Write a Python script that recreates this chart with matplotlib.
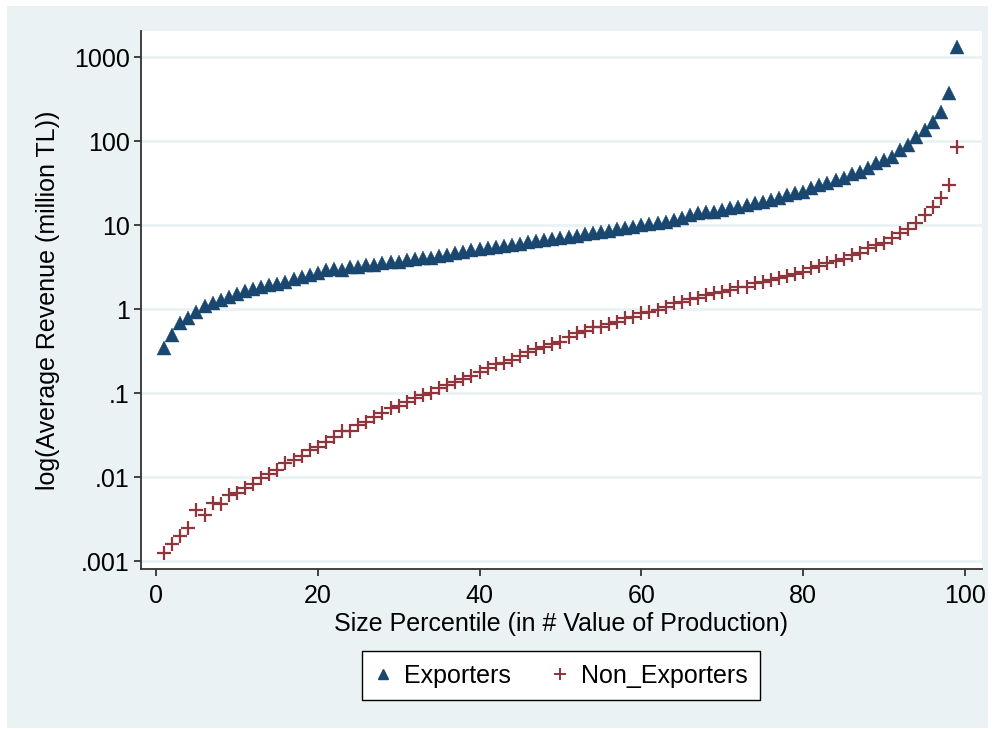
import matplotlib
matplotlib.use("Agg")
import matplotlib.pyplot as plt
from matplotlib.patches import Rectangle
from matplotlib.lines import Line2D
import numpy as np

plt.rcParams['font.family'] = ['Liberation Sans', 'DejaVu Sans']

percentile = list(range(1, 100))

exporters = [
    0.34, 0.49, 0.68, 0.78, 0.92, 1.09, 1.18, 1.28, 1.39, 1.5,
    1.64, 1.73, 1.83, 1.93, 2.0, 2.1, 2.27, 2.4, 2.54, 2.68,
    2.9, 3.0, 2.9, 3.16, 3.16, 3.3, 3.3, 3.5, 3.6, 3.6,
    3.8, 3.9, 4.0, 4.1, 4.3, 4.4, 4.6, 4.8, 5.0, 5.2,
    5.3, 5.5, 5.6, 5.8, 6.0, 6.2, 6.4, 6.6, 6.9, 7.1,
    7.3, 7.5, 7.8, 8.0, 8.3, 8.6, 8.9, 9.2, 9.6, 10.0,
    10.3, 10.7, 11.0, 11.5, 12.1, 13.1, 13.9, 14.3, 14.3, 15.1,
    15.9, 16.3, 17.3, 18.3, 18.8, 19.8, 21.0, 22.7, 24.0, 25.0,
    27.6, 30.0, 32.0, 34.0, 36.0, 40.0, 43.0, 48.0, 55.0, 60.0,
    64.0, 78.0, 90.0, 111.0, 135.0, 168.0, 222.0, 372.0, 1318.0,
]

non_exporters = [
    0.00124, 0.0016, 0.0020, 0.0025, 0.0041, 0.0035, 0.0049, 0.0048, 0.0061, 0.0065,
    0.0074, 0.0083, 0.0098, 0.011, 0.012, 0.0147, 0.016, 0.018, 0.021, 0.023,
    0.026, 0.030, 0.035, 0.035, 0.042, 0.045, 0.052, 0.058, 0.066, 0.070,
    0.078, 0.087, 0.096, 0.10, 0.115, 0.125, 0.135, 0.147, 0.16, 0.178,
    0.198, 0.22, 0.227, 0.247, 0.276, 0.307, 0.334, 0.353, 0.38, 0.405,
    0.465, 0.52, 0.547, 0.61, 0.61, 0.66, 0.70, 0.78, 0.80, 0.90,
    0.92, 0.97, 1.06, 1.18, 1.22, 1.32, 1.37, 1.47, 1.55, 1.6,
    1.68, 1.83, 1.83, 2.04, 2.1, 2.2, 2.34, 2.47, 2.6, 2.76,
    3.1, 3.25, 3.5, 3.7, 3.9, 4.4, 4.6, 5.3, 5.8, 6.1,
    7.0, 8.0, 8.96, 10.6, 13.1, 16.3, 21.0, 30.0, 85.0,
]

y_ticks = [0.001, 0.01, 0.1, 1, 10, 100, 1000]
y_tick_labels = [".001", ".01", ".1", "1", "10", "100", "1000"]
x_ticks = [0, 20, 40, 60, 80, 100]

navy = "#1A476F"
maroon = "#90353B"
bg = "#EAF2F3"

W, H = 995, 729
fig = plt.figure(figsize=(W / 100, H / 100), dpi=100, facecolor="white")
bg_rect = Rectangle((7 / W, 1 - 728 / H), (988 - 7) / W, (728 - 6) / H,
                    transform=fig.transFigure, facecolor=bg, edgecolor="none", zorder=-10)
fig.patches.append(bg_rect)

ax = fig.add_axes([141 / W, 1 - 569 / H, (982 - 141) / W, (569 - 31) / H])
ax.set_zorder(1)
ax.set_facecolor("white")
ax.set_yscale("log")
ax.set_xlim(-1.85, 102.1)
ax.set_ylim(10 ** -3.095, 10 ** 3.31)

for t in y_ticks:
    ax.axhline(t, color=bg, lw=2.0, zorder=1)

ax.plot(percentile, exporters, linestyle="none", marker="^", markersize=9.5,
        color=navy, markeredgecolor=navy, markeredgewidth=0.3, zorder=3)
ax.plot(percentile, non_exporters, linestyle="none", marker="+", markersize=10,
        color=maroon, markeredgewidth=1.6, zorder=4)

ax.set_yticks(y_ticks)
ax.set_yticklabels(y_tick_labels)
ax.yaxis.set_minor_locator(matplotlib.ticker.NullLocator())
ax.set_xticks(x_ticks)

for s in ["top", "right"]:
    ax.spines[s].set_visible(False)
for s in ["left", "bottom"]:
    ax.spines[s].set_color("#333333")
    ax.spines[s].set_linewidth(1.3)

ax.tick_params(axis="both", direction="out", length=5, width=1.3, color="#333333",
               labelsize=18, labelcolor="black")
ax.tick_params(axis="y", pad=3)
ax.tick_params(axis="x", pad=6)

ax.set_xlabel("Size Percentile (in # Value of Production)", fontsize=18, labelpad=3)
ax.set_ylabel("log(Average Revenue (million TL))", fontsize=18, labelpad=10)

handles = [
    Line2D([], [], linestyle="none", marker="^", markersize=7.5, color=navy),
    Line2D([], [], linestyle="none", marker="+", markersize=9, color=maroon, markeredgewidth=1.4),
]
leg = fig.legend(handles, ["Exporters", "Non_Exporters"], loc="upper center",
                 bbox_to_anchor=(561 / W, 1 - 651 / H), ncol=2, fontsize=18,
                 frameon=True, fancybox=False, edgecolor="black", framealpha=1,
                 handlelength=0.7, handletextpad=0.5, columnspacing=1.6,
                 borderpad=0.5, borderaxespad=0.0)
leg.get_frame().set_linewidth(1.0)

fig.savefig("out.png", dpi=100, facecolor="white")
